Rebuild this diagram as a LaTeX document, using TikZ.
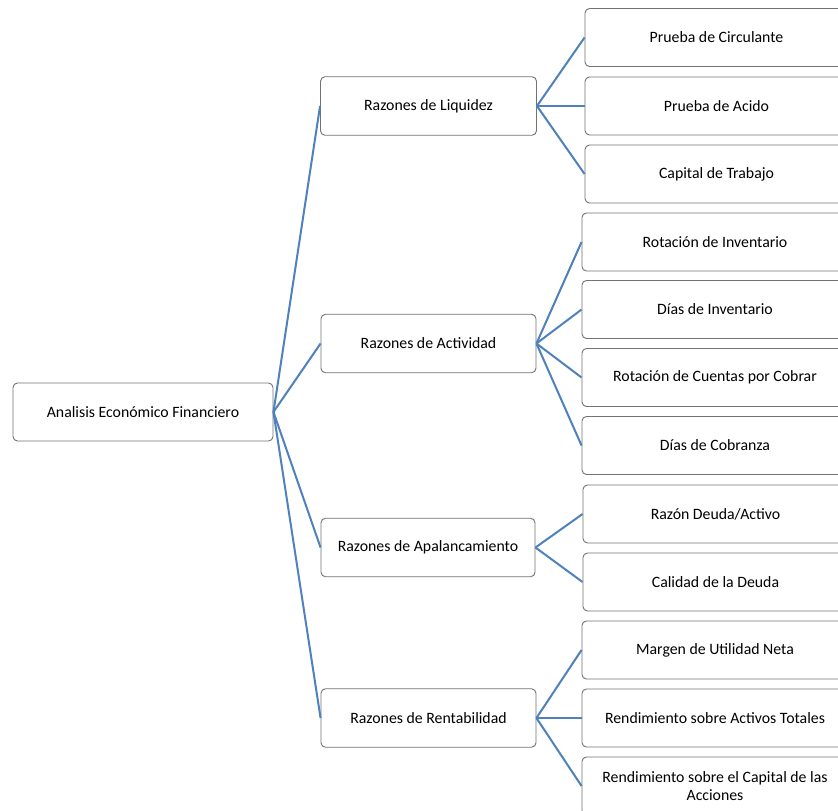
\documentclass[tikz,border=0pt]{standalone}
\usepackage{fontspec}
\setmainfont{Carlito}
\begin{document}
\begin{tikzpicture}[x=1pt,y=-1pt,
  box/.style={draw=black!55, line width=0.9pt, rounded corners=4.5pt, fill=white,
    rectangle, inner sep=0pt, align=center, font=\fontsize{15.8}{18.5}\selectfont},
  rootbox/.style={box, minimum width=260pt, minimum height=58pt},
  midbox/.style={box, minimum width=215pt, minimum height=58.5pt},
  leafbox/.style={box, minimum width=265pt, minimum height=58pt},
  link/.style={draw=linkblue, line width=2pt}]
\definecolor{linkblue}{HTML}{4F81BD}
\useasboundingbox (0,0) rectangle (838,811);
\clip (0,0) rectangle (838,811);
\fill[white] (0,0) rectangle (838,811);

% root
\node[rootbox] (root) at (143,412) {Analisis Económico Financiero};

% second level
\node[midbox, minimum width=216pt] (liq) at (428.5,106) {Razones de Liquidez};
\node[midbox] (act) at (428.5,343.5) {Razones de Actividad};
\node[midbox, minimum width=214pt] (apa) at (428,547.5) {Razones de Apalancamiento};
\node[midbox] (ren) at (428.5,718) {Razones de Rentabilidad};

% leaves
\node[leafbox, minimum width=263pt] (l1) at (716.5,37.5) {Prueba de Circulante};
\node[leafbox, minimum width=263pt] (l2) at (716.5,106) {Prueba de Acido};
\node[leafbox, minimum width=263pt] (l3) at (716.5,174) {Capital de Trabajo};

\node[leafbox, minimum width=266pt] (a1) at (715,242) {Rotación de Inventario};
\node[leafbox, minimum width=266pt] (a2) at (715,309.5) {Días de Inventario};
\node[leafbox, minimum width=266pt] (a3) at (715,377.5) {Rotación de Cuentas por Cobrar};
\node[leafbox, minimum width=266pt] (a4) at (715,445.5) {Días de Cobranza};

\node[leafbox, minimum width=265pt] (p1) at (715.5,514) {Razón Deuda/Activo};
\node[leafbox, minimum width=265pt] (p2) at (715.5,582) {Calidad de la Deuda};

\node[leafbox, minimum width=266pt] (r1) at (715,650) {Margen de Utilidad Neta};
\node[leafbox, minimum width=266pt] (r2) at (715,718) {Rendimiento sobre Activos Totales};
\node[leafbox, minimum width=266pt] (r3) at (715,786) {Rendimiento sobre el Capital de las\\Acciones};

% connectors
\foreach \m in {liq,act,apa,ren}
  \draw[link] (root.east) -- (\m.west);
\foreach \c in {l1,l2,l3}
  \draw[link] (liq.east) -- (\c.west);
\foreach \c in {a1,a2,a3,a4}
  \draw[link] (act.east) -- (\c.west);
\foreach \c in {p1,p2}
  \draw[link] (apa.east) -- (\c.west);
\foreach \c in {r1,r2,r3}
  \draw[link] (ren.east) -- (\c.west);
\end{tikzpicture}
\end{document}
